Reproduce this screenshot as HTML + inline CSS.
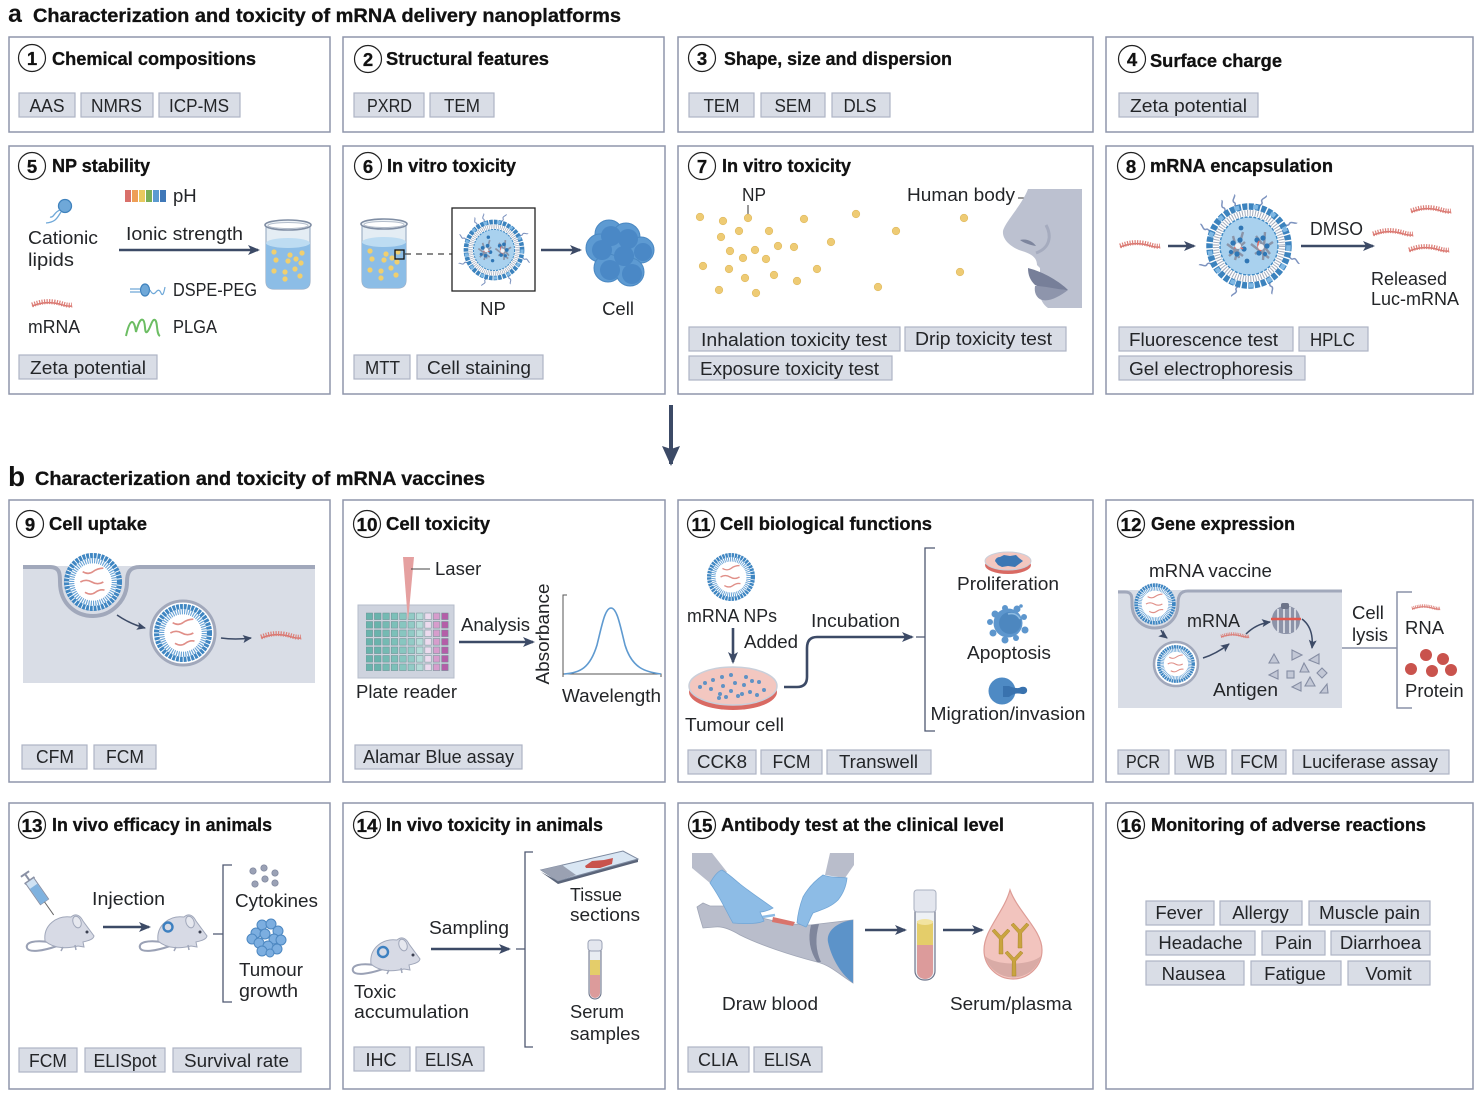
<!DOCTYPE html>
<html><head><meta charset="utf-8"><style>
html,body{margin:0;padding:0;background:#fff}
svg{display:block}
text{font-family:"Liberation Sans",sans-serif;font-size:18.5px;fill:#232528}
.h{font-weight:bold;font-size:18.5px;fill:#111;stroke:#111;stroke-width:.3}
.n{font-weight:bold;font-size:18.5px;fill:#111;stroke:#111;stroke-width:.3;text-anchor:middle}
.c{text-anchor:middle}
.box{fill:#fff;stroke:#8f96ab;stroke-width:1.5}
.tg{fill:#d9dde6;stroke:#aeb4c5;stroke-width:1.2}
.cr{fill:#fff;stroke:#222;stroke-width:1.2}
.ar{stroke:#3c4a66;stroke-width:2.6;fill:none;marker-end:url(#ah)}
.ar2{stroke:#3c4a66;stroke-width:1.5;fill:none;marker-end:url(#ah2)}
.br{stroke:#4e5870;stroke-width:1.3;fill:none}
.an{fill:#c3c8d6;stroke:#858da3;stroke-width:1.1}
</style></head><body>
<svg width="1478" height="1096" viewBox="0 0 1478 1096" xmlns="http://www.w3.org/2000/svg">
<defs>
<marker id="ah" markerUnits="userSpaceOnUse" markerWidth="14" markerHeight="12" refX="10" refY="5" orient="auto"><path d="M0,0 L12,5 L0,10 L3,5 Z" fill="#3c4a66"/></marker>
<marker id="ah2" markerUnits="userSpaceOnUse" markerWidth="10" markerHeight="10" refX="8" refY="4" orient="auto"><path d="M0,0 L9,4 L0,8 L2,4 Z" fill="#3c4a66"/></marker>
<marker id="ah3" markerUnits="userSpaceOnUse" markerWidth="26" markerHeight="26" refX="18" refY="9" orient="auto"><path d="M0,0 L20,9 L0,18 L3,9 Z" fill="#3c4a66"/></marker>
<g id="mr"><path d="M0,3 C8,0 14,-1 22,0 S34,4 40,3" fill="none" stroke="#d9736d" stroke-width="1.500"/><path d="M0,2 C8,-1 14,-2 22,-1 S34,3 40,2" fill="none" stroke="#dc7f78" stroke-width="5" stroke-dasharray="1.200 1.300"/></g>
<g id="ves"><circle r="24" fill="#fff"/><circle r="23" fill="none" stroke="#3f86c2" stroke-width="4.500" stroke-dasharray="2.500 .8"/><circle r="18.500" fill="none" stroke="#6aa4d6" stroke-width="4.500" stroke-dasharray="1 1"/><g fill="none" stroke="#e08f88" stroke-width="1.400"><path d="M-9,-9 q5,3 9,0 t9,-3"/><path d="M-11,0 q5,-3 10,0 t10,0"/><path d="M-7,9 q5,3 9,0 t8,-2"/></g></g>
<g id="peg"><path d="M0,0 q2.500,-2.500 1,-4 t1,-4 t1.500,-3" fill="none" stroke="#7d93bf" stroke-width="1.500"/></g>
<g id="np">
<g><use href="#peg" transform="rotate(15) translate(0,-42)"/><use href="#peg" transform="rotate(-20) translate(0,-42)"/><use href="#peg" transform="rotate(60) translate(0,-42)"/><use href="#peg" transform="rotate(105) translate(0,-42)"/><use href="#peg" transform="rotate(150) translate(0,-42)"/><use href="#peg" transform="rotate(195) translate(0,-42)"/><use href="#peg" transform="rotate(245) translate(0,-42)"/><use href="#peg" transform="rotate(290) translate(0,-42)"/><use href="#peg" transform="rotate(325) translate(0,-42)"/></g>
<circle r="38" fill="#fff"/>
<circle r="39.500" fill="none" stroke="#3c83be" stroke-width="6.500" stroke-dasharray="5 1.400"/>
<circle r="39.500" fill="none" stroke="#7fb8e4" stroke-width="4.500" stroke-dasharray="5 14"/>
<circle r="33" fill="none" stroke="#a3acbd" stroke-width="6" stroke-dasharray="1 1.600"/>
<circle r="29" fill="#a9d1ee"/>
<circle r="29" fill="none" stroke="#3f89c4" stroke-width="1.400" stroke-dasharray="3 1.400"/>
<g stroke="#8a94a8" stroke-width="2.400" fill="none"><path d="M-22,-2 L-6,10 M-16,-10 L-10,12 M-20,10 L-4,-4 M-6,-14 L-14,14 M7,-10 L21,8 M16,-14 L14,14 M6,8 L24,-4 M2,-2 L20,12"/></g>
<g fill="#2f76b5"><circle cx="-16" cy="-3" r="2.600"/><circle cx="-9" cy="-6" r="2.600"/><circle cx="-5" cy="3" r="2.600"/><circle cx="-12" cy="8" r="2.600"/><circle cx="-18" cy="6" r="2.200"/><circle cx="8" cy="-6" r="2.600"/><circle cx="14" cy="-8" r="2.600"/><circle cx="18" cy="0" r="2.600"/><circle cx="10" cy="7" r="2.600"/><circle cx="16" cy="8" r="2.200"/><circle cx="-8" cy="-18" r="2.400"/><circle cx="-2" cy="15" r="2.400"/></g>
<path d="M-15,2 q5,-2 9,1 M10,-5 q-3,5 2,10" stroke="#e06860" stroke-width="1.400" fill="none"/>
<circle cx="-11" cy="0" r="3" fill="#eef1f5"/><circle cx="12" cy="1" r="3" fill="#eef1f5"/>
</g>
<g id="beak">
<path d="M2,6 V62 Q2,70 10,70 H38 Q46,70 46,62 V6 Z" fill="#e4edf4" stroke="#9fb1c6" stroke-width="1.200"/>
<path d="M2,24 V62 Q2,70 10,70 H38 Q46,70 46,62 V24 Z" fill="#8cbde6"/>
<ellipse cx="24" cy="24" rx="22" ry="5" fill="#bddcf2"/>
<ellipse cx="24" cy="6" rx="23" ry="5" fill="#eef3f7" stroke="#7f8da3" stroke-width="1.600"/>
<ellipse cx="24" cy="6.500" rx="20" ry="3" fill="#fff" stroke="#b3bdcb" stroke-width="1"/>
<g fill="#f0cf6f"><circle cx="10" cy="33" r="2.600"/><circle cx="26" cy="36" r="2.600"/><circle cx="38" cy="34" r="2.600"/><circle cx="12" cy="41" r="2.600"/><circle cx="24" cy="42" r="2.600"/><circle cx="32" cy="40" r="2.600"/><circle cx="37" cy="44" r="2.600"/><circle cx="10" cy="52" r="2.600"/><circle cx="21" cy="53" r="2.600"/><circle cx="36" cy="57" r="2.600"/><circle cx="21" cy="60" r="2.600"/><circle cx="31" cy="50" r="2.600"/></g>
</g>
<g id="mouse">
<path d="M24,27 C10,25 0,27 2,33 C4,38 18,36 32,31" fill="none" stroke="#9aa1b5" stroke-width="2"/>
<path d="M20,26 C18,10 32,0 46,2 C52,-3 56,2 58,6 L69,21 C68,25 62,26 58,27 L59,32 L53,31 C45,33 30,35 20,26 Z" fill="#d7dae5" stroke="#a0a7ba" stroke-width="1"/>
<ellipse cx="52" cy="7" rx="4" ry="6" fill="#e6e8ef" stroke="#a0a7ba" transform="rotate(-20 52 7)"/>
<circle cx="62" cy="17" r="1.500" fill="#3c4152"/>
<path d="M38,32 l-2,4 M50,30 l1,5" stroke="#a0a7ba" stroke-width="1.500"/>
</g>
<pattern id="wells" x="365" y="612" width="84.400" height="8.500" patternUnits="userSpaceOnUse">
<g stroke="#6e8f92" stroke-width=".5"><rect x="1" y="1" width="6.600" height="6.600" fill="#69b3ac"/><rect x="9.400" y="1" width="6.600" height="6.600" fill="#69b3ac"/><rect x="17.800" y="1" width="6.600" height="6.600" fill="#75bab3"/><rect x="26.200" y="1" width="6.600" height="6.600" fill="#7cc0b9"/><rect x="34.600" y="1" width="6.600" height="6.600" fill="#88c6c0"/><rect x="43" y="1" width="6.600" height="6.600" fill="#92cbc6"/><rect x="51.400" y="1" width="6.600" height="6.600" fill="#b4dcd8"/><rect x="59.800" y="1" width="6.600" height="6.600" fill="#ecdbee"/><rect x="68.200" y="1" width="6.600" height="6.600" fill="#d69dcc"/><rect x="76.600" y="1" width="6.600" height="6.600" fill="#b45ea8"/></g>
</pattern>
<g id="ab" fill="#c9a43f" stroke="#a8862c" stroke-width=".5"><path d="M-1.800,-1 L-9,-9 L-6.500,-11 L0,-4 L6.500,-11 L9,-9 L1.800,-1 L2,14 L-2,14 Z"/></g>
</defs>

<rect width="1478" height="1096" fill="#fff"/>

<!-- headings -->
<text x="8" y="22" style="font-size:25px;font-weight:bold;fill:#111">a</text>
<text x="33" y="22" class="h" style="font-size:19.500px" textLength="588" lengthAdjust="spacingAndGlyphs">Characterization and toxicity of mRNA delivery nanoplatforms</text>
<text x="8" y="486" style="font-size:28px;font-weight:bold;fill:#111">b</text>
<text x="35" y="485" class="h" style="font-size:19.500px" textLength="450" lengthAdjust="spacingAndGlyphs">Characterization and toxicity of mRNA vaccines</text>
<line x1="671" y1="405" x2="671" y2="464" stroke="#3c4a66" stroke-width="4" marker-end="url(#ah3)"/>

<!-- boxes -->
<rect class="box" x="9" y="37" width="321" height="95"/><rect class="box" x="343" y="37" width="321" height="95"/><rect class="box" x="678" y="37" width="415" height="95"/><rect class="box" x="1106" y="37" width="367" height="95"/>
<rect class="box" x="9" y="146" width="321" height="248"/><rect class="box" x="343" y="146" width="322" height="248"/><rect class="box" x="678" y="146" width="415" height="248"/><rect class="box" x="1106" y="146" width="367" height="248"/>
<rect class="box" x="9" y="500" width="321" height="282"/><rect class="box" x="343" y="500" width="322" height="282"/><rect class="box" x="678" y="500" width="415" height="282"/><rect class="box" x="1106" y="500" width="367" height="282"/>
<rect class="box" x="9" y="803" width="321" height="286"/><rect class="box" x="343" y="803" width="322" height="286"/><rect class="box" x="678" y="803" width="415" height="286"/><rect class="box" x="1106" y="803" width="367" height="286"/>

<!-- numbers + titles -->
<circle class="cr" cx="32" cy="58" r="13.500"/><text class="n" x="32" y="65">1</text><text class="h" x="52" y="65" textLength="204" lengthAdjust="spacingAndGlyphs">Chemical compositions</text>
<circle class="cr" cx="368" cy="59" r="13.500"/><text class="n" x="368" y="66">2</text><text class="h" x="386" y="65" textLength="163" lengthAdjust="spacingAndGlyphs">Structural features</text>
<circle class="cr" cx="702" cy="58" r="13.500"/><text class="n" x="702" y="65">3</text><text class="h" x="724" y="65" textLength="228" lengthAdjust="spacingAndGlyphs">Shape, size and dispersion</text>
<circle class="cr" cx="1132" cy="59" r="13.500"/><text class="n" x="1132" y="66">4</text><text class="h" x="1150" y="67" textLength="132" lengthAdjust="spacingAndGlyphs">Surface charge</text>
<circle class="cr" cx="32" cy="166" r="13.500"/><text class="n" x="32" y="173">5</text><text class="h" x="52" y="172" textLength="98" lengthAdjust="spacingAndGlyphs">NP stability</text>
<circle class="cr" cx="368" cy="166" r="13.500"/><text class="n" x="368" y="173">6</text><text class="h" x="387" y="172" textLength="129" lengthAdjust="spacingAndGlyphs">In vitro toxicity</text>
<circle class="cr" cx="702" cy="166" r="13.500"/><text class="n" x="702" y="173">7</text><text class="h" x="722" y="172" textLength="129" lengthAdjust="spacingAndGlyphs">In vitro toxicity</text>
<circle class="cr" cx="1131" cy="166" r="13.500"/><text class="n" x="1131" y="173">8</text><text class="h" x="1150" y="172" textLength="183" lengthAdjust="spacingAndGlyphs">mRNA encapsulation</text>
<circle class="cr" cx="30" cy="524" r="13.500"/><text class="n" x="30" y="531">9</text><text class="h" x="49" y="530" textLength="98" lengthAdjust="spacingAndGlyphs">Cell uptake</text>
<circle class="cr" cx="367" cy="524" r="13.500"/><text class="n" x="367" y="531" textLength="21" lengthAdjust="spacingAndGlyphs">10</text><text class="h" x="386" y="530" textLength="104" lengthAdjust="spacingAndGlyphs">Cell toxicity</text>
<circle class="cr" cx="701" cy="524" r="13.500"/><text class="n" x="701" y="531" textLength="19" lengthAdjust="spacingAndGlyphs">11</text><text class="h" x="720" y="530" textLength="212" lengthAdjust="spacingAndGlyphs">Cell biological functions</text>
<circle class="cr" cx="1131" cy="524" r="13.500"/><text class="n" x="1131" y="531" textLength="21" lengthAdjust="spacingAndGlyphs">12</text><text class="h" x="1151" y="530" textLength="144" lengthAdjust="spacingAndGlyphs">Gene expression</text>
<circle class="cr" cx="32" cy="825" r="13.500"/><text class="n" x="32" y="832" textLength="21" lengthAdjust="spacingAndGlyphs">13</text><text class="h" x="52" y="831" textLength="220" lengthAdjust="spacingAndGlyphs">In vivo efficacy in animals</text>
<circle class="cr" cx="367" cy="825" r="13.500"/><text class="n" x="367" y="832" textLength="21" lengthAdjust="spacingAndGlyphs">14</text><text class="h" x="386" y="831" textLength="217" lengthAdjust="spacingAndGlyphs">In vivo toxicity in animals</text>
<circle class="cr" cx="702" cy="825" r="13.500"/><text class="n" x="702" y="832" textLength="21" lengthAdjust="spacingAndGlyphs">15</text><text class="h" x="721" y="831" textLength="283" lengthAdjust="spacingAndGlyphs">Antibody test at the clinical level</text>
<circle class="cr" cx="1131" cy="825" r="13.500"/><text class="n" x="1131" y="832" textLength="21" lengthAdjust="spacingAndGlyphs">16</text><text class="h" x="1151" y="831" textLength="275" lengthAdjust="spacingAndGlyphs">Monitoring of adverse reactions</text>

<!-- tags -->
<rect class="tg" x="19" y="93" width="56" height="24"/><text class="c" x="47" y="112" textLength="35" lengthAdjust="spacingAndGlyphs">AAS</text>
<rect class="tg" x="81" y="93" width="72" height="24"/><text class="c" x="116.500" y="112" textLength="51" lengthAdjust="spacingAndGlyphs">NMRS</text>
<rect class="tg" x="159" y="93" width="81" height="24"/><text class="c" x="199" y="112" textLength="60" lengthAdjust="spacingAndGlyphs">ICP-MS</text>
<rect class="tg" x="354" y="93" width="70" height="24"/><text class="c" x="389.500" y="112" textLength="45" lengthAdjust="spacingAndGlyphs">PXRD</text>
<rect class="tg" x="430" y="93" width="64" height="24"/><text class="c" x="462" y="112" textLength="36" lengthAdjust="spacingAndGlyphs">TEM</text>
<rect class="tg" x="689" y="93" width="65" height="24"/><text class="c" x="721.500" y="112" textLength="36" lengthAdjust="spacingAndGlyphs">TEM</text>
<rect class="tg" x="761" y="93" width="64" height="24"/><text class="c" x="793" y="112" textLength="37" lengthAdjust="spacingAndGlyphs">SEM</text>
<rect class="tg" x="832" y="93" width="58" height="24"/><text class="c" x="860" y="112" textLength="33" lengthAdjust="spacingAndGlyphs">DLS</text>
<rect class="tg" x="1119" y="93" width="139" height="24"/><text class="c" x="1188.500" y="112" textLength="117" lengthAdjust="spacingAndGlyphs">Zeta potential</text>
<rect class="tg" x="19" y="355" width="138" height="24"/><text class="c" x="88" y="374" textLength="116" lengthAdjust="spacingAndGlyphs">Zeta potential</text>
<rect class="tg" x="354" y="355" width="56" height="24"/><text class="c" x="382.500" y="374" textLength="35" lengthAdjust="spacingAndGlyphs">MTT</text>
<rect class="tg" x="417" y="355" width="126" height="24"/><text class="c" x="479" y="374" textLength="104" lengthAdjust="spacingAndGlyphs">Cell staining</text>
<rect class="tg" x="689" y="327" width="211" height="24"/><text class="c" x="794" y="346" textLength="186" lengthAdjust="spacingAndGlyphs">Inhalation toxicity test</text>
<rect class="tg" x="905" y="327" width="161" height="24"/><text class="c" x="983.500" y="345" textLength="137" lengthAdjust="spacingAndGlyphs">Drip toxicity test</text>
<rect class="tg" x="689" y="356" width="203" height="24"/><text class="c" x="789.500" y="375" textLength="179" lengthAdjust="spacingAndGlyphs">Exposure toxicity test</text>
<rect class="tg" x="1119" y="327" width="174" height="24"/><text class="c" x="1203.500" y="346" textLength="149" lengthAdjust="spacingAndGlyphs">Fluorescence test</text>
<rect class="tg" x="1299" y="327" width="69" height="24"/><text class="c" x="1332.500" y="346" textLength="45" lengthAdjust="spacingAndGlyphs">HPLC</text>
<rect class="tg" x="1119" y="356" width="186" height="24"/><text class="c" x="1211" y="375" textLength="164" lengthAdjust="spacingAndGlyphs">Gel electrophoresis</text>
<rect class="tg" x="22" y="745" width="65" height="24"/><text class="c" x="55" y="763" textLength="38" lengthAdjust="spacingAndGlyphs">CFM</text>
<rect class="tg" x="94" y="745" width="62" height="24"/><text class="c" x="125" y="763" textLength="38" lengthAdjust="spacingAndGlyphs">FCM</text>
<rect class="tg" x="355" y="745" width="167" height="24"/><text class="c" x="438.500" y="763" textLength="151" lengthAdjust="spacingAndGlyphs">Alamar Blue assay</text>
<rect class="tg" x="688" y="750" width="68" height="24"/><text class="c" x="722" y="768" textLength="50" lengthAdjust="spacingAndGlyphs">CCK8</text>
<rect class="tg" x="761" y="750" width="61" height="24"/><text class="c" x="791.500" y="768" textLength="38" lengthAdjust="spacingAndGlyphs">FCM</text>
<rect class="tg" x="827" y="750" width="104" height="24"/><text class="c" x="878.500" y="768" textLength="79" lengthAdjust="spacingAndGlyphs">Transwell</text>
<rect class="tg" x="1118" y="750" width="51" height="24"/><text class="c" x="1143" y="768" textLength="34" lengthAdjust="spacingAndGlyphs">PCR</text>
<rect class="tg" x="1175" y="750" width="51" height="24"/><text class="c" x="1201" y="768" textLength="28" lengthAdjust="spacingAndGlyphs">WB</text>
<rect class="tg" x="1232" y="750" width="54" height="24"/><text class="c" x="1259" y="768" textLength="38" lengthAdjust="spacingAndGlyphs">FCM</text>
<rect class="tg" x="1293" y="750" width="156" height="24"/><text class="c" x="1370" y="768" textLength="136" lengthAdjust="spacingAndGlyphs">Luciferase assay</text>
<rect class="tg" x="19" y="1048" width="58" height="24"/><text class="c" x="48" y="1067" textLength="38" lengthAdjust="spacingAndGlyphs">FCM</text>
<rect class="tg" x="85" y="1048" width="80" height="24"/><text class="c" x="125" y="1067" textLength="63" lengthAdjust="spacingAndGlyphs">ELISpot</text>
<rect class="tg" x="173" y="1048" width="128" height="24"/><text class="c" x="236.500" y="1067" textLength="105" lengthAdjust="spacingAndGlyphs">Survival rate</text>
<rect class="tg" x="354" y="1047" width="56" height="24"/><text class="c" x="381" y="1066" textLength="31" lengthAdjust="spacingAndGlyphs">IHC</text>
<rect class="tg" x="416" y="1047" width="68" height="24"/><text class="c" x="449" y="1066" textLength="48" lengthAdjust="spacingAndGlyphs">ELISA</text>
<rect class="tg" x="688" y="1047" width="61" height="25"/><text class="c" x="718" y="1066" textLength="40" lengthAdjust="spacingAndGlyphs">CLIA</text>
<rect class="tg" x="754" y="1047" width="68" height="25"/><text class="c" x="787.500" y="1066" textLength="47" lengthAdjust="spacingAndGlyphs">ELISA</text>
<rect class="tg" x="1146" y="901" width="68" height="24"/><text class="c" x="1179" y="919">Fever</text>
<rect class="tg" x="1220" y="901" width="82" height="24"/><text class="c" x="1260.500" y="919">Allergy</text>
<rect class="tg" x="1309" y="901" width="121" height="24"/><text class="c" x="1369.500" y="919" textLength="101" lengthAdjust="spacingAndGlyphs">Muscle pain</text>
<rect class="tg" x="1146" y="931" width="109" height="24"/><text class="c" x="1200.500" y="949">Headache</text>
<rect class="tg" x="1262" y="931" width="63" height="24"/><text class="c" x="1293.500" y="949">Pain</text>
<rect class="tg" x="1331" y="931" width="99" height="24"/><text class="c" x="1380.500" y="949">Diarrhoea</text>
<rect class="tg" x="1146" y="961" width="98" height="24"/><text class="c" x="1193.500" y="980">Nausea</text>
<rect class="tg" x="1251" y="961" width="90" height="24"/><text class="c" x="1295" y="980">Fatigue</text>
<rect class="tg" x="1348" y="961" width="82" height="24"/><text class="c" x="1388.500" y="980">Vomit</text>

<!-- 5 -->
<g><rect x="125" y="190" width="6" height="12" fill="#d9706a"/><rect x="132" y="190" width="6" height="12" fill="#ee9e57"/><rect x="139" y="190" width="6" height="12" fill="#e8c95f"/><rect x="146" y="190" width="6" height="12" fill="#79ae57"/><rect x="153" y="190" width="6" height="12" fill="#5b9bd0"/><rect x="160" y="190" width="6" height="12" fill="#3f78b8"/></g>
<text x="173" y="202">pH</text>
<ellipse cx="65" cy="206" rx="6.500" ry="6.500" fill="#6fa8d8" stroke="#3f82bd" stroke-width="1.300"/>
<path d="M60,210 C54,212 54,218 50,217 M61,212 C57,218 56,222 46,223" stroke="#6fa8d8" stroke-width="1.300" fill="none"/>
<text x="28" y="244" textLength="70" lengthAdjust="spacingAndGlyphs">Cationic</text><text x="28" y="266" textLength="46" lengthAdjust="spacingAndGlyphs">lipids</text>
<text x="126" y="240" textLength="117" lengthAdjust="spacingAndGlyphs">Ionic strength</text>
<line class="ar" x1="119" y1="250" x2="258" y2="250"/>
<use href="#beak" x="264" y="219"/>
<use href="#mr" x="32" y="303"/>
<text x="28" y="333" textLength="52" lengthAdjust="spacingAndGlyphs">mRNA</text>
<g transform="translate(130,290)" fill="none" stroke="#6fa8d8" stroke-width="1.200"><path d="M0,-1 h10 M0,2 h10"/><ellipse cx="15" cy="0" rx="4.500" ry="6" fill="#6fa8d8" stroke="#3f82bd"/><path d="M20,0 q3,6 6,2 t5,1 t4,-6"/></g>
<text x="173" y="296" textLength="84" lengthAdjust="spacingAndGlyphs">DSPE-PEG</text>
<path d="M126,336 C130,318 134,318 136,332 C138,325 140,318 143,320 C146,322 144,334 147,332 C150,330 152,318 155,320 C158,322 156,334 160,336" fill="none" stroke="#6cbd63" stroke-width="2"/>
<text x="173" y="333" textLength="44" lengthAdjust="spacingAndGlyphs">PLGA</text>

<!-- 6 -->
<use href="#beak" x="360" y="218"/>
<rect x="395" y="250" width="9" height="9" fill="none" stroke="#111" stroke-width="1.300"/>
<line x1="405" y1="254" x2="452" y2="254" stroke="#444" stroke-width="1.200" stroke-dasharray="6 5"/>
<rect x="452" y="208" width="83" height="83" fill="#fff" stroke="#222" stroke-width="1.300"/>
<use href="#np" transform="translate(494,250) scale(.71)"/>
<line class="ar" x1="541" y1="250" x2="580" y2="250"/>
<g fill="#5d9ad2" stroke="#4a88c2" stroke-width="1"><circle cx="609" cy="234" r="14"/><circle cx="626" cy="237" r="14"/><circle cx="600" cy="248" r="14"/><circle cx="622" cy="254" r="14"/><circle cx="641" cy="250" r="13"/><circle cx="608" cy="268" r="14"/><circle cx="630" cy="272" r="14"/></g>
<g fill="#4a88c6"><circle cx="611" cy="236" r="10"/><circle cx="628" cy="239" r="10"/><circle cx="602" cy="250" r="10"/><circle cx="624" cy="256" r="10"/><circle cx="643" cy="252" r="9"/><circle cx="610" cy="270" r="10"/><circle cx="632" cy="274" r="10"/></g>
<text class="c" x="493" y="315">NP</text><text class="c" x="618" y="315">Cell</text>

<!-- 7 -->
<text x="742" y="201" textLength="24" lengthAdjust="spacingAndGlyphs">NP</text><line x1="748" y1="205" x2="748" y2="216" stroke="#333" stroke-width="1"/>
<text x="907" y="201" textLength="108" lengthAdjust="spacingAndGlyphs">Human body</text><line x1="1018" y1="198" x2="1030" y2="198" stroke="#333" stroke-width="1"/>
<g fill="#eecb74" stroke="#dfb95e" stroke-width=".6"><circle cx="700" cy="217" r="3.800"/><circle cx="723" cy="221" r="3.800"/><circle cx="748" cy="218" r="3.800"/><circle cx="804" cy="219" r="3.800"/><circle cx="856" cy="214" r="3.800"/><circle cx="964" cy="218" r="3.800"/><circle cx="721" cy="237" r="3.800"/><circle cx="739" cy="231" r="3.800"/><circle cx="769" cy="231" r="3.800"/><circle cx="896" cy="231" r="3.800"/><circle cx="730" cy="251" r="3.800"/><circle cx="755" cy="250" r="3.800"/><circle cx="778" cy="246" r="3.800"/><circle cx="794" cy="247" r="3.800"/><circle cx="831" cy="242" r="3.800"/><circle cx="743" cy="258" r="3.800"/><circle cx="766" cy="259" r="3.800"/><circle cx="703" cy="266" r="3.800"/><circle cx="729" cy="269" r="3.800"/><circle cx="745" cy="278" r="3.800"/><circle cx="774" cy="275" r="3.800"/><circle cx="797" cy="281" r="3.800"/><circle cx="817" cy="269" r="3.800"/><circle cx="719" cy="290" r="3.800"/><circle cx="756" cy="293" r="3.800"/><circle cx="878" cy="287" r="3.800"/><circle cx="960" cy="272" r="3.800"/></g>
<path d="M1082,189 H1028 C1022,205 1005,222 1003,231 C1002,240 1012,248 1022,251 C1032,254 1037,258 1037,265 L1040,268 L1040,284 C1038,296 1042,304 1048,308 H1082 Z" fill="#bcc1d0"/>
<path d="M1028,268 C1044,272 1060,282 1068,290 C1058,290 1040,288 1035,285 C1030,280 1028,275 1028,268 Z" fill="#777f99"/>
<path d="M1035,286 C1045,286 1060,290 1068,290 C1060,296 1050,302 1042,300 C1036,298 1034,292 1035,286 Z" fill="#8e95ac"/>
<path d="M1020,240 C1028,238 1034,243 1036,246 C1030,245 1024,243 1020,240 Z" fill="#7d859d"/>
<path d="M1046,225 C1052,236 1050,248 1036,253" fill="none" stroke="#a5abbe" stroke-width="3"/>

<!-- 8 -->
<use href="#mr" x="1120" y="244"/>
<line class="ar" x1="1168" y1="246" x2="1194" y2="246"/>
<use href="#np" transform="translate(1249,246)"/>
<line class="ar" x1="1301" y1="246" x2="1373" y2="246"/>
<text x="1310" y="235" textLength="53" lengthAdjust="spacingAndGlyphs">DMSO</text>
<use href="#mr" x="1411" y="209"/><use href="#mr" x="1373" y="232"/><use href="#mr" x="1409" y="248"/>
<text x="1371" y="285" textLength="76" lengthAdjust="spacingAndGlyphs">Released</text><text x="1371" y="305" textLength="88" lengthAdjust="spacingAndGlyphs">Luc-mRNA</text>

<!-- 9 -->
<rect x="23" y="566" width="292" height="117" fill="#d9dde6"/>
<path d="M23,567 H50 C60,567 60,574 60,582 C60,604 76,616 93,616 C112,616 127,600 127,582 C127,572 130,567 140,567 H315" fill="none" stroke="#a1a8bb" stroke-width="4"/>
<circle cx="93" cy="582" r="28" fill="#fff"/>
<use href="#ves" transform="translate(93,582) scale(1.150)"/>
<circle cx="183" cy="633" r="32" fill="#fff" stroke="#a1a8bb" stroke-width="3"/>
<use href="#ves" transform="translate(183,633) scale(1.150)"/>
<path class="ar2" d="M117,615 Q130,624 145,628"/>
<path class="ar2" d="M221,638 Q235,640 251,638"/>
<use href="#mr" x="261" y="635"/>

<!-- 10 -->
<rect x="358" y="605" width="96" height="73" fill="#ced3de" stroke="#b6bccb"/>
<rect x="366" y="612" width="84" height="60" fill="url(#wells)"/>
<path d="M403,557 H414 L408,622 Z" fill="#e5a0a0"/>
<line x1="411" y1="569" x2="430" y2="569" stroke="#444" stroke-width="1"/>
<text x="435" y="575">Laser</text>
<text x="356" y="698" textLength="101" lengthAdjust="spacingAndGlyphs">Plate reader</text>
<text x="461" y="631" textLength="69" lengthAdjust="spacingAndGlyphs">Analysis</text>
<line class="ar" x1="459" y1="642" x2="533" y2="642"/>
<text class="c" transform="translate(549,634) rotate(-90)" textLength="101" lengthAdjust="spacingAndGlyphs">Absorbance</text>
<path d="M567,595 H563 V677 M563,674 H661 V677" fill="none" stroke="#555" stroke-width="1"/>
<path d="M564,674 C580,673 590,668 597,645 C602,625 605,608 611,608 C617,608 620,625 625,645 C632,668 645,672 661,674" fill="none" stroke="#5f9ad0" stroke-width="1.600"/>
<text x="562" y="702" textLength="99" lengthAdjust="spacingAndGlyphs">Wavelength</text>

<!-- 11 -->
<use href="#ves" transform="translate(731,577) scale(.95)"/>
<text x="687" y="622" textLength="90" lengthAdjust="spacingAndGlyphs">mRNA NPs</text>
<line class="ar" x1="733" y1="628" x2="733" y2="662"/>
<text x="744" y="648" textLength="54" lengthAdjust="spacingAndGlyphs">Added</text>
<ellipse cx="733" cy="692" rx="44" ry="18" fill="#d96a63"/>
<ellipse cx="733" cy="686" rx="44" ry="19" fill="#f3c7c0" stroke="#c9cfda" stroke-width="1.500"/>
<g fill="#5f92c4"><circle cx="705" cy="683" r="2"/><circle cx="713" cy="680" r="2"/><circle cx="722" cy="677" r="2"/><circle cx="731" cy="675" r="2"/><circle cx="746" cy="677" r="2"/><circle cx="759" cy="682" r="2"/><circle cx="700" cy="687" r="2"/><circle cx="711" cy="689" r="2"/><circle cx="723" cy="686" r="2"/><circle cx="735" cy="683" r="2"/><circle cx="744" cy="685" r="2"/><circle cx="752" cy="681" r="2"/><circle cx="764" cy="690" r="2"/><circle cx="720" cy="694" r="2"/><circle cx="731" cy="691" r="2"/><circle cx="742" cy="694" r="2"/><circle cx="750" cy="692" r="2"/><circle cx="757" cy="695" r="2"/><circle cx="719" cy="698" r="2"/><circle cx="726" cy="697" r="2"/><circle cx="738" cy="696" r="2"/></g>
<text x="685" y="731" textLength="99" lengthAdjust="spacingAndGlyphs">Tumour cell</text>
<path class="ar" d="M784,687 H797 Q807,687 807,677 V648 Q807,637 817,637 H912"/>
<text x="811" y="627" textLength="89" lengthAdjust="spacingAndGlyphs">Incubation</text>
<path class="br" d="M935,548 H925 V731 H935 M916,637 H925"/>
<ellipse cx="1008" cy="565" rx="23" ry="9" fill="#d96a63"/>
<ellipse cx="1008" cy="561" rx="23" ry="9" fill="#f3c7c0" stroke="#c9cfda"/>
<path d="M995,561 Q996,557 1000,557 L1004,555 L1010,556 L1016,555 L1019,558 L1023,561 L1019,564 L1015,567 L1008,566 L1002,567 L998,565 Z" fill="#3c77b4"/>
<text class="c" x="1008" y="590" textLength="102" lengthAdjust="spacingAndGlyphs">Proliferation</text>
<g fill="#5d96cd"><circle cx="1008" cy="623" r="14.500"/><circle cx="995" cy="614" r="3.500"/><circle cx="1005" cy="608" r="3"/><circle cx="1017" cy="609" r="3.500"/><circle cx="1024" cy="617" r="3"/><circle cx="1025" cy="630" r="3.500"/><circle cx="1016" cy="638" r="3"/><circle cx="1005" cy="640" r="3.500"/><circle cx="993" cy="633" r="3.500"/><circle cx="990" cy="622" r="3"/><circle cx="1021" cy="606" r="1.800"/></g>
<circle cx="1010" cy="623" r="11" fill="#4d87bf"/><path d="M1008,614 q8,-2 12,5" stroke="#8dbbe2" stroke-width="1.500" fill="none"/>
<text class="c" x="1009" y="659" textLength="84" lengthAdjust="spacingAndGlyphs">Apoptosis</text>
<circle cx="1002" cy="691" r="13.500" fill="#4e8ac4"/>
<path d="M1003,686 H1009 C1014,688 1018,689 1021,687 C1029,685 1029,695 1022,694 C1018,693 1014,693 1009,697 H1003 Z" fill="#3972ae"/>
<text class="c" x="1008" y="720" textLength="155" lengthAdjust="spacingAndGlyphs">Migration/invasion</text>

<!-- 12 -->
<rect x="1118" y="590" width="224" height="118" fill="#d9dde6"/>
<path d="M1118,592 H1125 C1132,592 1132,596 1132,604 C1132,620 1144,628 1155,628 C1168,628 1178,618 1178,604 C1178,596 1180,591 1188,591 H1342" fill="none" stroke="#a1a8bb" stroke-width="3"/>
<circle cx="1155" cy="604" r="20" fill="#fff"/>
<use href="#ves" transform="translate(1155,604) scale(.82)"/>
<circle cx="1176" cy="664" r="22" fill="#fff" stroke="#a1a8bb" stroke-width="2.500"/>
<use href="#ves" transform="translate(1176,664) scale(.75)"/>
<text x="1149" y="577" textLength="123" lengthAdjust="spacingAndGlyphs">mRNA vaccine</text>
<text x="1187" y="627" textLength="53" lengthAdjust="spacingAndGlyphs">mRNA</text>
<use href="#mr" transform="translate(1221,635) scale(.7)"/>
<path class="ar2" d="M1161,630 Q1163,635 1167,638"/>
<path class="ar2" d="M1203,658 Q1216,654 1229,644"/>
<path class="ar2" d="M1246,634 Q1256,624 1270,622"/>
<path class="ar2" d="M1302,619 Q1314,628 1312,648"/>
<g><rect x="1272" y="606" width="28" height="28" rx="13" fill="#8c93a8"/><path d="M1278,609 V632 M1284,607 V633 M1290,607 V633 M1295,609 V632" stroke="#e3e6ee" stroke-width="1.600"/><rect x="1281" y="603" width="8" height="6" rx="2" fill="#6d7489"/><line x1="1271" y1="619" x2="1301" y2="619" stroke="#e0594f" stroke-width="2.400"/></g>
<g class="an"><polygon class="an" points="1269,663 1279,663 1274,654"/><polygon class="an" points="1292,650 1292,660 1302,655"/><polygon class="an" points="1319,654 1319,664 1309,660"/><polygon class="an" points="1278,670 1278,679 1269,675"/><rect class="an" x="1287" y="671" width="7" height="7"/><polygon class="an" points="1300,672 1309,672 1304,663"/><polygon class="an" points="1322,668 1327,673 1322,678 1317,673"/><polygon class="an" points="1301,682 1301,691 1292,687"/><polygon class="an" points="1305,686 1315,686 1310,677"/><polygon class="an" points="1328,693 1320,693 1327,684"/></g>
<text x="1213" y="696" textLength="65" lengthAdjust="spacingAndGlyphs">Antigen</text>
<text x="1352" y="619">Cell</text><text x="1352" y="641">lysis</text>
<path class="br" style="stroke:#8a92a8;stroke-width:1.500" d="M1342,648 H1397 M1412,592 H1397 V708 H1412"/>
<use href="#mr" transform="translate(1412,607) scale(.7)"/>
<text x="1405" y="634">RNA</text>
<g fill="#c9534d"><circle cx="1426" cy="655" r="6"/><circle cx="1443" cy="659" r="6"/><circle cx="1411" cy="669" r="6"/><circle cx="1432" cy="671" r="6"/><circle cx="1451" cy="670" r="6"/></g>
<text x="1405" y="697">Protein</text>

<!-- 13 -->
<g transform="translate(25,874) rotate(-35)"><line x1="0" y1="0" x2="0" y2="8" stroke="#8a91a5" stroke-width="2"/><line x1="-5" y1="0" x2="5" y2="0" stroke="#8a91a5" stroke-width="2"/><line x1="-6" y1="8" x2="6" y2="8" stroke="#8a91a5" stroke-width="2"/><rect x="-5" y="8" width="10" height="26" fill="#cfe2f3" stroke="#8a91a5" stroke-width="1"/><rect x="-4.500" y="15" width="9" height="19" fill="#7fb2df"/><line x1="0" y1="34" x2="0" y2="50" stroke="#666" stroke-width="1"/></g>
<use href="#mouse" x="25" y="915"/>
<text x="92" y="905" textLength="73" lengthAdjust="spacingAndGlyphs">Injection</text>
<line class="ar" x1="103" y1="927" x2="149" y2="927"/>
<use href="#mouse" x="138" y="915"/>
<circle cx="168" cy="927" r="4.500" fill="none" stroke="#3d80c0" stroke-width="2.400"/>
<path class="br" d="M232,865 H223 V1002 H232 M213,934 H223"/>
<g fill="#9aa1b5" stroke="#7d859c" stroke-width=".7"><circle cx="253" cy="871" r="3.200"/><circle cx="264" cy="868" r="3.200"/><circle cx="275" cy="873" r="3.200"/><circle cx="255" cy="884" r="3.200"/><circle cx="265" cy="879" r="3.200"/><circle cx="275" cy="883" r="3.200"/></g>
<text x="235" y="907" textLength="83" lengthAdjust="spacingAndGlyphs">Cytokines</text>
<g fill="#7caee0" stroke="#4c87c1" stroke-width="1"><circle cx="262" cy="925" r="5"/><circle cx="271" cy="924" r="5"/><circle cx="278" cy="931" r="5"/><circle cx="256" cy="933" r="5"/><circle cx="265" cy="934" r="5"/><circle cx="274" cy="939" r="5"/><circle cx="281" cy="940" r="5"/><circle cx="252" cy="939" r="5"/><circle cx="259" cy="943" r="5"/><circle cx="268" cy="946" r="5"/><circle cx="277" cy="949" r="5"/><circle cx="262" cy="951" r="5"/><circle cx="270" cy="953" r="4"/></g>
<text x="239" y="976" textLength="64" lengthAdjust="spacingAndGlyphs">Tumour</text><text x="239" y="997" textLength="59" lengthAdjust="spacingAndGlyphs">growth</text>

<!-- 14 -->
<use href="#mouse" x="351" y="938"/>
<circle cx="383" cy="952" r="5" fill="none" stroke="#3d80c0" stroke-width="2.400"/>
<text x="354" y="998">Toxic</text><text x="354" y="1018" textLength="115" lengthAdjust="spacingAndGlyphs">accumulation</text>
<text x="429" y="934" textLength="80" lengthAdjust="spacingAndGlyphs">Sampling</text>
<line class="ar" x1="431" y1="949" x2="509" y2="949"/>
<path class="br" d="M533,852 H525 V1047 H533 M516,949 H525"/>
<path d="M541,872 L558,884 L638,862 V859 L558,881 Z" fill="#5a6479"/>
<polygon points="541,870 623,851 638,859 558,881" fill="#d9e6f3" stroke="#7d8aa0" stroke-width="1"/>
<polygon points="541,870 562,865 576,875 558,881" fill="#9aa1b2"/>
<path d="M585,866 L592,861 L604,860 L613,858 L612,864 L600,868 L586,868 Z" fill="#c9534d"/>
<text x="570" y="901" textLength="52" lengthAdjust="spacingAndGlyphs">Tissue</text><text x="570" y="921" textLength="70" lengthAdjust="spacingAndGlyphs">sections</text>
<g><rect x="589" y="943" width="12" height="56" rx="6" fill="#e8ecf2" stroke="#666e85" stroke-width="1"/><path d="M590,983 V993 A5,5 0 0 0 600,993 V983 Z" fill="#dc9b9b"/><rect x="590" y="968" width="10" height="19" fill="#dc9b9b"/><rect x="590" y="960" width="10" height="15" fill="#e4cd6a"/><rect x="588" y="940" width="14" height="11" rx="3" fill="#e3e6ee" stroke="#9aa1b5"/></g>
<text x="570" y="1018" textLength="54" lengthAdjust="spacingAndGlyphs">Serum</text><text x="570" y="1040" textLength="70" lengthAdjust="spacingAndGlyphs">samples</text>

<!-- 15 -->
<polygon points="692,853 712,853 727,872 710,883 692,868" fill="#b9bdcb"/>
<polygon points="830,853 854,853 854,865 845,878 825,875" fill="#b9bdcb"/>
<path d="M697,907 L703,903 L710,906 L725,906 C750,915 780,925 810,925 L853,920 V983 C840,975 830,965 817,962 C790,955 760,945 740,935 C730,929 722,926 715,927 L703,928 L700,918 Z" fill="#b9bdcb" stroke="#a0a6b6" stroke-width=".8"/>
<path d="M811,925 Q806,945 817,962 L821,962 Q813,945 819,924 Z" fill="#7f869c"/>
<path d="M853,920 C836,922 826,932 828,942 C832,960 842,975 853,983 Z" fill="#5c93c9"/>
<path d="M773,917 L795,922 L793,926 L772,922 Z" fill="#d9746c"/>
<line x1="762" y1="917" x2="775" y2="915" stroke="#8dbce6" stroke-width="2.500"/>
<path d="M710,883 C714,876 718,871 722,870 C730,875 735,880 740,884 C750,892 762,900 773,908 C768,911 762,912 760,912 L764,921 C758,924 745,924 733,923 C728,915 722,900 710,883 Z" fill="#8dbce6" stroke="#72a6d6" stroke-width=".8"/>
<path d="M797,923 C798,912 800,905 803,897 C808,888 816,880 823,875 C830,878 840,877 847,878 C846,888 842,895 838,900 C830,908 820,910 813,913 C810,918 808,925 806,927 Z" fill="#8dbce6" stroke="#72a6d6" stroke-width=".8"/>
<line class="ar" x1="865" y1="930" x2="905" y2="930"/>
<rect x="915" y="892" width="20" height="88" rx="9" fill="#eef1f5" stroke="#6d758b" stroke-width="1.200"/>
<path d="M917,944 H933 V972 A8,7 0 0 1 917,972 Z" fill="#dc9b9b"/>
<rect x="917" y="921" width="16" height="24" fill="#e4cd6a"/><ellipse cx="925" cy="922" rx="8" ry="3" fill="#f2e3a0"/>
<rect x="914" y="890" width="22" height="22" rx="3" fill="#e3e6ee" stroke="#aab0c0"/>
<line class="ar" x1="943" y1="930" x2="982" y2="930"/>
<path d="M1010,890 C1018,912 1042,930 1042,950 A29,29 0 0 1 984,950 C984,930 1004,912 1010,890 Z" fill="#f2c4be" stroke="#dd9c96" stroke-width="1.200"/>
<path d="M985,956 A29,29 0 0 0 1041,956 C1030,966 996,966 985,956 Z" fill="#d9aba6"/>
<use href="#ab" transform="translate(1001,940)"/><use href="#ab" transform="translate(1020,934)"/><use href="#ab" transform="translate(1014,962)"/>
<text x="722" y="1010" textLength="96" lengthAdjust="spacingAndGlyphs">Draw blood</text>
<text x="950" y="1010" textLength="122" lengthAdjust="spacingAndGlyphs">Serum/plasma</text>
</svg>
</body></html>
